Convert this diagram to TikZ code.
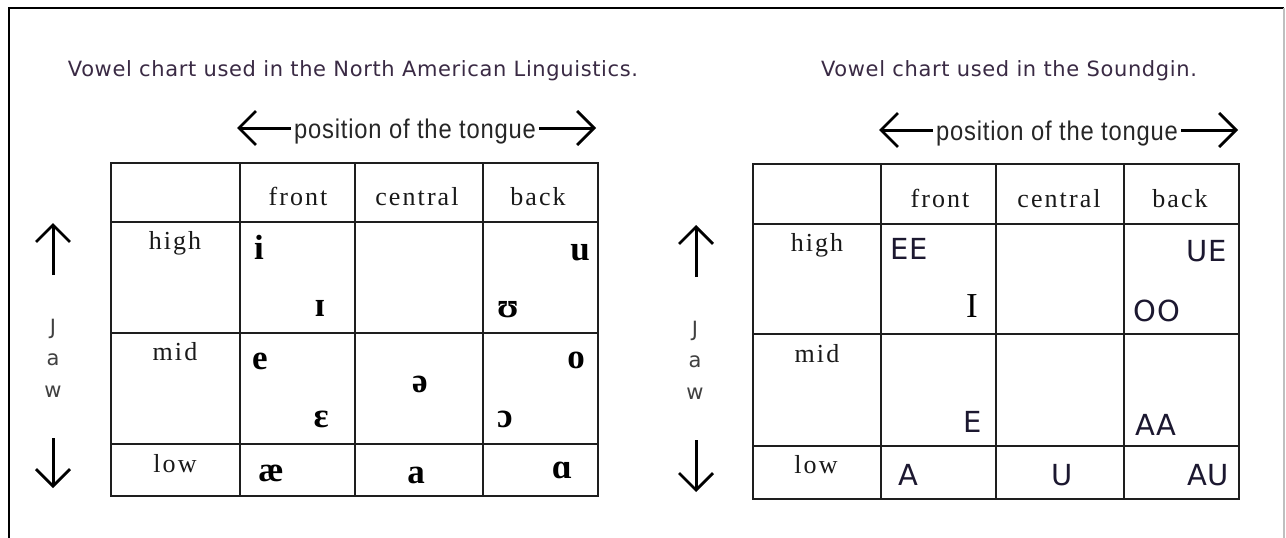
\documentclass[tikz,border=0pt]{standalone}
\usepackage{fontspec}
\setmainfont{Liberation Serif}
\newfontfamily\titlefont[LetterSpace=3]{DejaVu Sans}
\newfontfamily\posfont[LetterSpace=3,FakeStretch=0.88]{Liberation Sans}
\newfontfamily\labfont[LetterSpace=8]{Liberation Serif}
\newfontfamily\ipafont{Liberation Serif}
\newfontfamily\sndfont[LetterSpace=2]{DejaVu Sans}
\newfontfamily\jawfont{DejaVu Sans}
\usetikzlibrary{arrows.meta}
\definecolor{titlecol}{RGB}{58,42,68}
\definecolor{sndcol}{RGB}{28,24,48}
\definecolor{gridcol}{RGB}{30,30,30}
\begin{document}
\begin{tikzpicture}[x=1pt,y=-1pt,
  titletext/.style={font=\titlefont\fontsize{21}{23}\selectfont, text=titlecol, anchor=base, inner sep=0pt},
  tongue/.style={font=\posfont\fontsize{27}{29}\selectfont, text=black!85, anchor=base, inner sep=3pt},
  lab/.style={font=\labfont\fontsize{26}{28}\selectfont, text=black!90, anchor=base, inner sep=0pt},
  ipa/.style={font=\ipafont\bfseries\fontsize{35}{37}\selectfont, anchor=base, inner sep=0pt},
  snd/.style={font=\sndfont\fontsize{29}{31}\selectfont, text=sndcol, anchor=base, inner sep=0pt},
  sndser/.style={font=\ipafont\fontsize{35}{37}\selectfont, anchor=base, inner sep=0pt},
  jaw/.style={font=\jawfont\fontsize{21}{23}\selectfont, text=black!75, anchor=base, inner sep=0pt},
  gridline/.style={line width=2.2pt, draw=gridcol},
  arr/.style={line width=3pt, -{Straight Barb[length=17pt,width=34pt,line width=2.8pt]}}
]
\useasboundingbox (0,0) rectangle (1286,538);
\fill[white] (0,0) rectangle (1286,538);
% frame
\draw[line width=2pt, black] (9,538) -- (9,8) -- (1284,8);
\draw[line width=1.5pt, black!25] (1284,8) -- (1284,538);

% titles
\node[titletext] (t1) at (353,76) {Vowel chart used in the North American Linguistics.};
\node[titletext] (t2) at (1009,76) {Vowel chart used in the Soundgin.};

% position arrows
\node[tongue] (p1) at (415,138) {position of the tongue};
\coordinate (p1l) at (237,128);
\coordinate (p1r) at (596,128);
\draw[arr] (p1.west |- p1l) -- (p1l);
\draw[arr] (p1.east |- p1r) -- (p1r);

\node[tongue] (p2) at (1057,140) {position of the tongue};
\coordinate (p2l) at (879,130);
\coordinate (p2r) at (1238,130);
\draw[arr] (p2.west |- p2l) -- (p2l);
\draw[arr] (p2.east |- p2r) -- (p2r);

% left table grid
\draw[gridline] (111,163) rectangle (598,496);
\foreach \x in {240,355,483} \draw[gridline] (\x,163) -- (\x,496);
\foreach \y in {222,333,444} \draw[gridline] (111,\y) -- (598,\y);

% right table grid
\draw[gridline] (753,164) rectangle (1239,499);
\foreach \x in {881,996,1124} \draw[gridline] (\x,164) -- (\x,499);
\foreach \y in {224,334,446} \draw[gridline] (753,\y) -- (1239,\y);

% left labels
\node[lab] (lf) at (298,205) {front};
\node[lab] (lc) at (417,205) {central};
\node[lab] (lb) at (538,205) {back};
\node[lab] (lh) at (175,249) {high};
\node[lab] (lm) at (175,360) {mid};
\node[lab] (ll) at (175,472) {low};

% left IPA
\node[ipa] (v1) at (259,259) {i};
\node[ipa] (v2) at (580,260) {u};
\node[ipa] (v3) at (320,316) {ɪ};
\node[ipa] (v4) at (508,317) {ʊ};
\node[ipa] (v5) at (260,369) {e};
\node[ipa] (v6) at (576,368) {o};
\node[ipa] (v7) at (420,392) {ə};
\node[ipa] (v8) at (321,427) {ɛ};
\node[ipa] (v9) at (505,427) {ɔ};
\node[ipa] (v10) at (271,481) {æ};
\node[ipa] (v11) at (416,483) {a};
\node[ipa] (v12) at (562,478) {ɑ};

% right labels
\node[lab] (rf) at (940,207) {front};
\node[lab] (rc) at (1059,207) {central};
\node[lab] (rb) at (1180,207) {back};
\node[lab] (rh) at (817,251) {high};
\node[lab] (rm) at (817,362) {mid};
\node[lab] (rl) at (816,473) {low};

% right Soundgin symbols
\node[snd] (s1) at (909,259) {EE};
\node[snd] (s2) at (1207,261) {UE};
\node[sndser] (s3) at (972,317) {I};
\node[snd] (s4) at (1157,321) {OO};
\node[snd] (s5) at (973,432) {E};
\node[snd] (s6) at (1156,435) {AA};
\node[snd] (s7) at (908,485) {A};
\node[snd] (s8) at (1062,485) {U};
\node[snd] (s9) at (1208,485) {AU};

% jaw left
\node[jaw] (j1) at (53,334) {J};
\node[jaw] (a1) at (53,365) {a};
\node[jaw] (w1) at (53,397) {w};
\coordinate (u1s) at (53,275);
\coordinate (u1e) at (53,223);
\coordinate (d1s) at (53,438);
\coordinate (d1e) at (53,488);
\draw[arr] (u1s) -- (u1e);
\draw[arr] (d1s) -- (d1e);

% jaw right
\node[jaw] (j2) at (695,336) {J};
\node[jaw] (a2) at (695,367) {a};
\node[jaw] (w2) at (695,399) {w};
\coordinate (u2s) at (696,277);
\coordinate (u2e) at (696,225);
\coordinate (d2s) at (696,440);
\coordinate (d2e) at (696,492);
\draw[arr] (u2s) -- (u2e);
\draw[arr] (d2s) -- (d2e);
\end{tikzpicture}
\end{document}
